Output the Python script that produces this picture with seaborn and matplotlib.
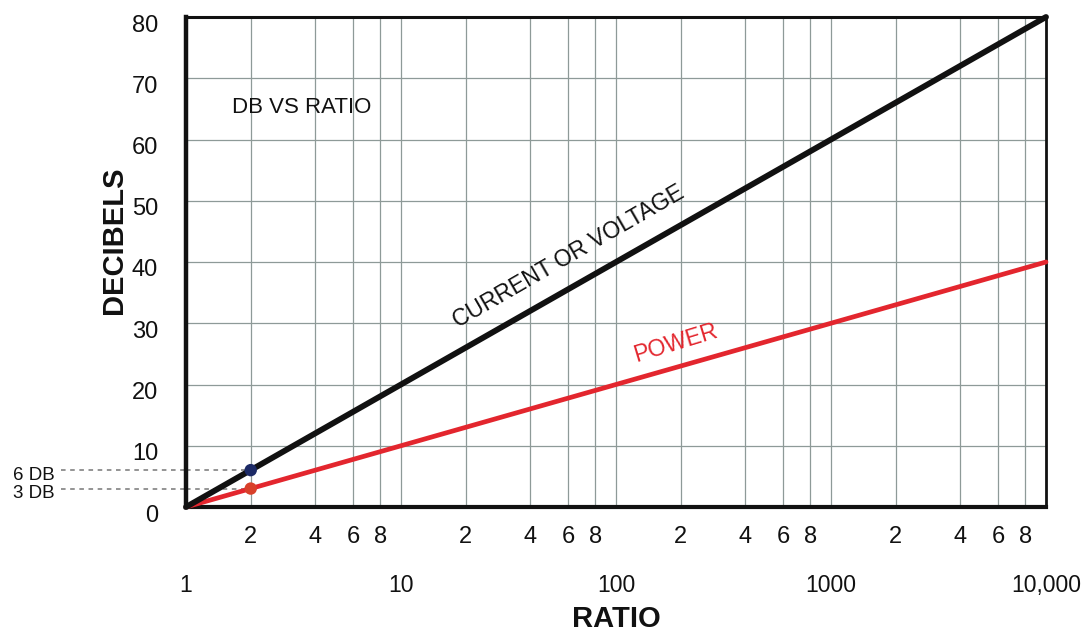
import numpy as np
import pandas as pd
import matplotlib
matplotlib.use('Agg')
import matplotlib.pyplot as plt
import matplotlib.transforms as mtransforms
import seaborn as sns

# chart data
ratios = [1, 10, 100, 1000, 10000]
db_current = [0, 20, 40, 60, 80]
db_power = [0, 10, 20, 30, 40]
marker_ratio = [2, 2]
marker_db = [6.02, 3.01]
marker_names = ['6 DB', '3 DB']
marker_colors = ['#1c2a66', '#d8402a']

major_ticks = [1, 10, 100, 1000, 10000]
major_labels = ['1', '10', '100', '1000', '10,000']
minor_ticks = [2, 4, 6, 8, 20, 40, 60, 80, 200, 400, 600, 800, 2000, 4000, 6000, 8000]
minor_labels = ['2', '4', '6', '8'] * 4
grid_x = [2, 4, 6, 8, 10, 20, 40, 60, 80, 100, 200, 400, 600, 800, 1000,
          2000, 4000, 6000, 8000]
y_ticks = [0, 10, 20, 30, 40, 50, 60, 70, 80]

sns.set_theme(style='white')
plt.rcParams['font.family'] = ['Liberation Sans', 'DejaVu Sans']
plt.rcParams['text.color'] = '#111111'
plt.rcParams['axes.labelcolor'] = '#111111'
plt.rcParams['xtick.color'] = '#111111'
plt.rcParams['ytick.color'] = '#111111'

fig = plt.figure(figsize=(10.84, 6.32), dpi=100)
ax = fig.add_axes([186 / 1084, 1 - 507 / 632, 860 / 1084, 490 / 632])

grid_col = '#8e9a98'
for gx in grid_x:
    ax.axvline(gx, color=grid_col, lw=0.9, zorder=1)
for gy in y_ticks[1:]:
    ax.axhline(gy, color=grid_col, lw=0.9, zorder=1)

df = pd.DataFrame({'ratio': ratios, 'current': db_current, 'power': db_power})
sns.lineplot(data=df, x='ratio', y='current', color='#111111', lw=4.2, ax=ax,
             zorder=4, clip_on=False)
sns.lineplot(data=df, x='ratio', y='power', color='#e3262e', lw=3.4, ax=ax,
             zorder=3, clip_on=False)

ax.set_xscale('log')
ax.set_xlim(1, 10000)
ax.set_ylim(0, 80)

# reference dots and dashed lines
mk = pd.DataFrame({'ratio': marker_ratio, 'db': marker_db, 'name': marker_names})
sns.scatterplot(data=mk, x='ratio', y='db', hue='name', palette=marker_colors,
                s=80, edgecolor='none', legend=False, ax=ax, zorder=5)
blend = mtransforms.blended_transform_factory(ax.transAxes, ax.transData)
for r, d, name in zip(marker_ratio, marker_db, marker_names):
    ax.plot([-0.145, 0], [d, d], transform=blend, ls=(0, (3, 3)), color='#777777',
            lw=1.1, clip_on=False, zorder=2)
    ax.plot([1, r], [d, d], ls=(0, (3, 3)), color='#777777', lw=1.1, zorder=2)
    ax.text(-0.153, d - 0.8, name, transform=blend, ha='right', va='center',
            fontsize=13.5, color='#111111')

# axes styling
for side, w in zip(['left', 'bottom', 'top', 'right'], [3.2, 3.0, 2.2, 2.0]):
    ax.spines[side].set_visible(True)
    ax.spines[side].set_color('#111111')
    ax.spines[side].set_linewidth(w)

ax.set_yticks(y_ticks)
ax.set_yticklabels([str(v) for v in y_ticks], fontsize=17)
ax.tick_params(axis='y', length=0, pad=20, labelcolor='#111111')
shift = mtransforms.ScaledTranslation(0, -6 / 100, fig.dpi_scale_trans)
for lab in ax.get_yticklabels():
    lab.set_transform(lab.get_transform() + shift)

ax.set_xticks(major_ticks)
ax.set_xticklabels(major_labels, fontsize=16.5)
ax.set_xticks(minor_ticks, minor=True)
ax.set_xticklabels(minor_labels, minor=True, fontsize=17)
ax.tick_params(axis='x', which='major', length=0, pad=48, labelcolor='#111111')
ax.tick_params(axis='x', which='minor', length=0, pad=14, labelcolor='#111111')

ax.set_xlabel('RATIO', fontsize=21, fontweight='bold', labelpad=6, color='#111111')
ax.set_ylabel('DECIBELS', fontsize=21, fontweight='bold', color='#111111')
ax.yaxis.set_label_coords(-0.068, 0.545)

ax.text(1.64, 65.3, 'DB VS RATIO', fontsize=16, ha='left', va='center', color='#111111')
ax.text(60, 40.8, 'CURRENT OR VOLTAGE', fontsize=16.5, ha='center', va='center',
        rotation=30, color='#111111')
ax.text(190, 26.8, 'POWER', fontsize=16.5, ha='center', va='center',
        rotation=17, color='#e3262e')

fig.savefig('out.png', dpi=100)
